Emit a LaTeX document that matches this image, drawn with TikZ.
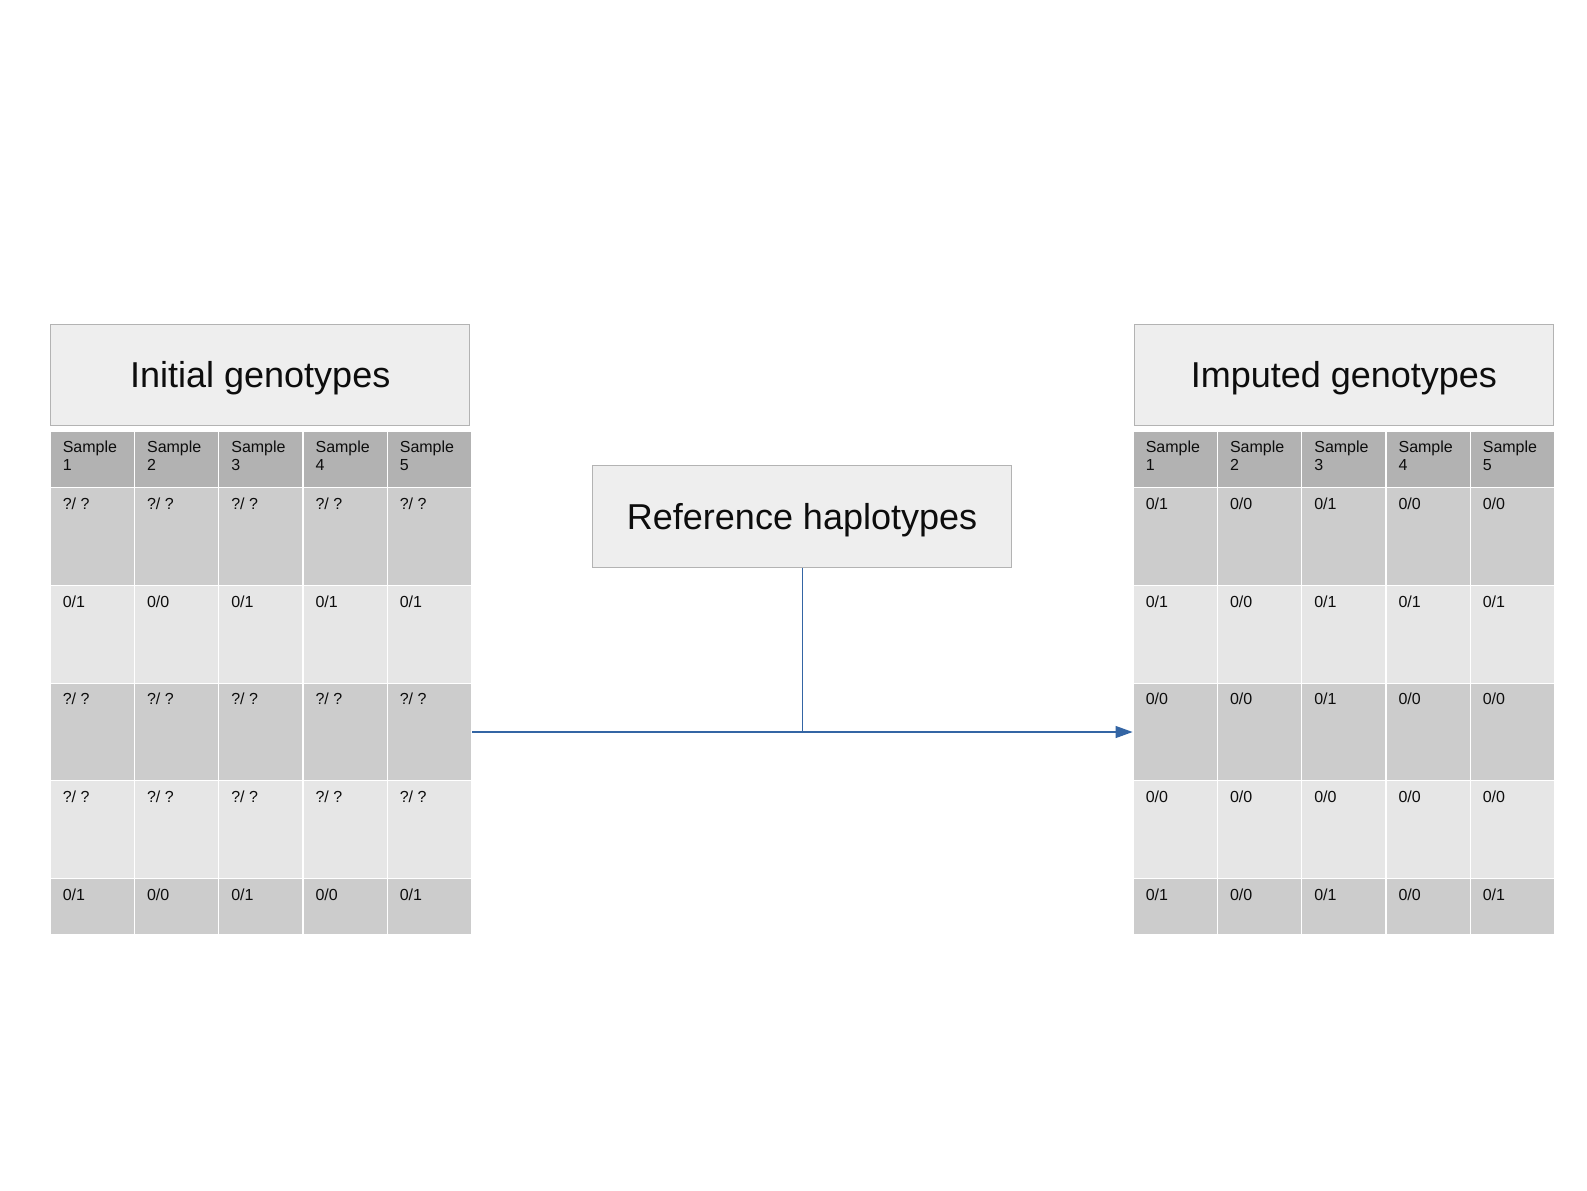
\documentclass[tikz,border=0pt]{standalone}
\usepackage{fontspec}
\setmainfont{Liberation Sans}
\usetikzlibrary{arrows.meta}
\definecolor{titlefill}{HTML}{EEEEEE}
\definecolor{titleline}{HTML}{B3B3B3}
\definecolor{headfill}{HTML}{B2B2B2}
\definecolor{darkrow}{HTML}{CCCCCC}
\definecolor{lightrow}{HTML}{E6E6E6}
\definecolor{linkblue}{HTML}{3465A4}
\begin{document}
\begin{tikzpicture}[
  x=1.0127pt, y=-1.0127pt,
  titlebox/.style={draw=titleline, fill=titlefill, line width=1pt,
    minimum width=419.3pt, minimum height=101.3pt, inner sep=0pt,
    text depth=0pt,
    font=\fontsize{36}{43}\selectfont, text=black!95},
  cell/.style={draw=white, line width=1.2pt, minimum width=84.25pt,
    inner sep=0pt, anchor=north west},
  celltext/.style={anchor=north west, inner sep=0pt, align=left,
    font=\fontsize{16}{17.5}\selectfont, text=black!95,
    xshift=13pt, yshift=-10.5pt},
  link/.style={draw=linkblue, line width=1.1pt}]
  \useasboundingbox (0,0) rectangle (1567.1,1175.1);

  % titles
  \node[titlebox] (init) at (257,370) {Initial genotypes};
  \node[titlebox] (ref) at (792,510) {Reference haplotypes};
  \node[titlebox] (imp) at (1327,370) {Imputed genotypes};

  % header rows
  \foreach \t/\x in {L/49, R/1118.4}
    \foreach \c in {1,...,5}
      \node[cell, fill=headfill, minimum height=56.7pt]
        (\t-0-\c) at ({\x+(\c-1)*83.2},425) {}
        node[celltext] (\t-0-\c-t) at (\t-0-\c.north west) {Sample\\\c};

  % body rows: row/top/height/fill/left values/right values
  \foreach \r/\y/\h/\f/\lv/\rv in {
      1/481/97.7/darkrow/{?/ ?,?/ ?,?/ ?,?/ ?,?/ ?}/{0/1,0/0,0/1,0/0,0/0},
      2/577.5/97.7/lightrow/{0/1,0/0,0/1,0/1,0/1}/{0/1,0/0,0/1,0/1,0/1},
      3/674/97.7/darkrow/{?/ ?,?/ ?,?/ ?,?/ ?,?/ ?}/{0/0,0/0,0/1,0/0,0/0},
      4/770.5/97.7/lightrow/{?/ ?,?/ ?,?/ ?,?/ ?,?/ ?}/{0/0,0/0,0/0,0/0,0/0},
      5/867/55.7/darkrow/{0/1,0/0,0/1,0/0,0/1}/{0/1,0/0,0/1,0/0,0/1}} {
    \foreach \v [count=\c] in \lv
      \node[cell, fill=\f, minimum height=\h pt]
        (L-\r-\c) at ({49+(\c-1)*83.2},\y) {}
        node[celltext] (L-\r-\c-t) at (L-\r-\c.north west) {\v};
    \foreach \v [count=\c] in \rv
      \node[cell, fill=\f, minimum height=\h pt]
        (R-\r-\c) at ({1118.4+(\c-1)*83.2},\y) {}
        node[celltext] (R-\r-\c-t) at (R-\r-\c.north west) {\v};
  }

  % connectors
  \coordinate (join) at (ref.south |- L-3-5.east);
  \draw[link] (ref.south) -- (join);
  \draw[link, -{Triangle[length=17pt,width=12pt]}] (L-3-5.east) -- (R-3-1.west);
\end{tikzpicture}
\end{document}
